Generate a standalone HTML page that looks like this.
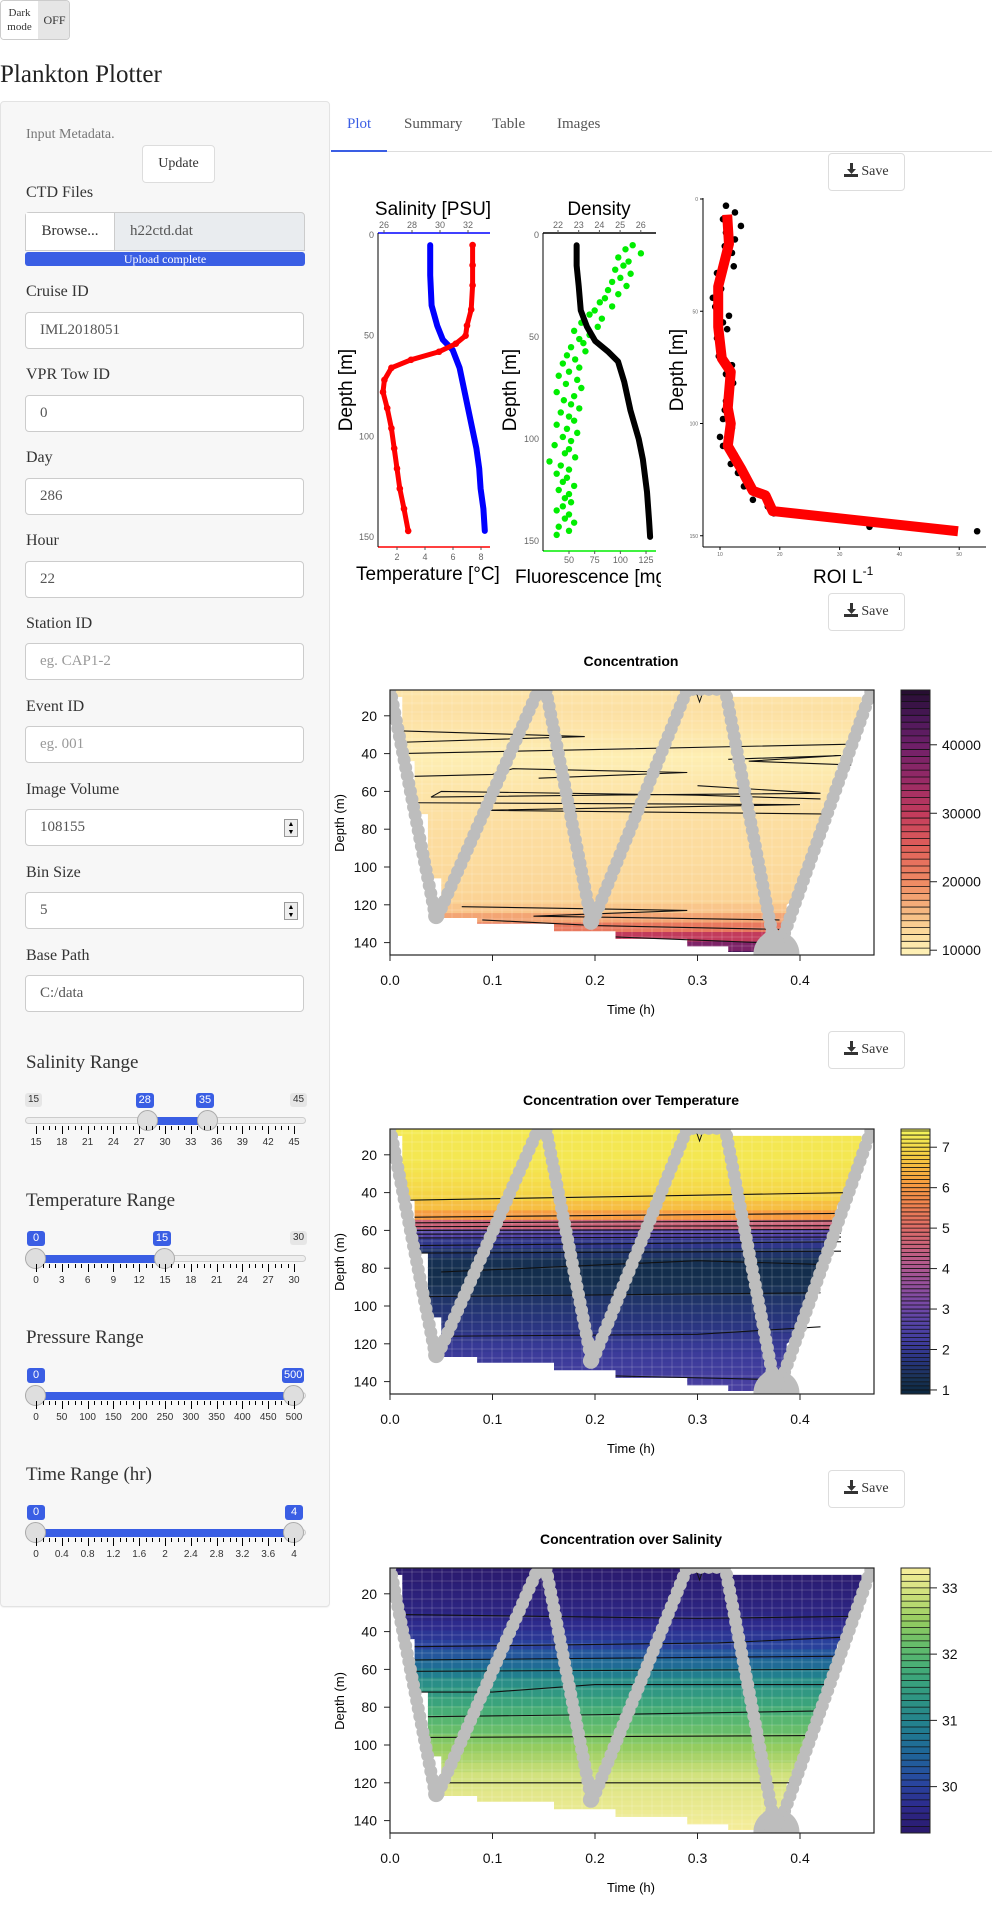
<!DOCTYPE html>
<html><head><meta charset="utf-8">
<style>
body{margin:0;width:992px;height:1909px;position:relative;background:#fff;font-family:"Liberation Serif",serif;color:#333;overflow:hidden}
.abs{position:absolute}
.lbl{position:absolute;left:26px;font-size:16px;color:#333}
.inp{position:absolute;left:25px;width:279px;height:37px;border:1px solid #ccc;border-radius:4px;background:#fff;box-sizing:border-box;font-size:15px;line-height:35px;padding-left:14px;color:#555}
.ph{color:#999}
.spin{position:absolute;right:5px;top:9px;width:14px;height:18px;border:1px solid #999;background:#eee;box-sizing:border-box;font-size:7px;line-height:8px;text-align:center;color:#000}
.btn{position:absolute;background:#fff;border:1px solid #ddd;border-radius:4px;box-sizing:border-box;font-size:14px;text-align:center;color:#333}
.h3{position:absolute;left:26px;font-size:19px;color:#333}
.tab{position:absolute;top:116px;font-size:15px;color:#555}
</style></head><body>

<div class="abs" style="left:0;top:0;width:70px;height:40px;border:1px solid #ccc;border-radius:4px;box-sizing:border-box;overflow:hidden;font-size:11px">
 <div class="abs" style="left:0;top:0;width:37px;height:38px;background:#fff;text-align:center;line-height:14px;padding-top:5px;box-sizing:border-box">Dark<br>mode</div>
 <div class="abs" style="left:37px;top:0;width:33px;height:38px;background:#e6e6e6;text-align:center;line-height:38px;font-size:12px">OFF</div>
</div>
<div class="abs" style="left:0;top:61px;font-size:25px;color:#222">Plankton Plotter</div>

<div class="abs" style="left:0;top:101px;width:330px;height:1506px;background:#f7f7f7;border:1px solid #e3e3e3;border-radius:4px;box-sizing:border-box;box-shadow:0 1px 1px rgba(0,0,0,.05)"></div>

<div class="abs" style="left:26px;top:127px;font-size:14px;color:#777">Input Metadata.</div>
<div class="btn" style="left:142px;top:145px;width:73px;height:38px;line-height:36px">Update</div>
<div class="lbl" style="top:184px">CTD Files</div>
<div class="abs" style="left:25px;top:212px;width:280px;height:39px;border:1px solid #ccc;border-radius:4px 4px 0 0;background:#e9ecef;box-sizing:border-box">
 <div class="abs" style="left:0;top:0;width:88px;height:37px;background:#fff;border-right:1px solid #ccc;font-size:15px;line-height:37px;text-align:center">Browse...</div>
 <div class="abs" style="left:104px;top:0;line-height:37px;font-size:15px;color:#555">h22ctd.dat</div>
</div>
<div class="abs" style="left:25px;top:252px;width:280px;height:14px;background:#3a5ee4;border-radius:3px;color:#fff;font-size:12px;line-height:14px;text-align:center">Upload complete</div>

<div class="lbl" style="top:283px">Cruise ID</div>
<div class="inp" style="top:312px">IML2018051</div>
<div class="lbl" style="top:366px">VPR Tow ID</div>
<div class="inp" style="top:395px">0</div>
<div class="lbl" style="top:449px">Day</div>
<div class="inp" style="top:478px">286</div>
<div class="lbl" style="top:532px">Hour</div>
<div class="inp" style="top:561px">22</div>
<div class="lbl" style="top:615px">Station ID</div>
<div class="inp ph" style="top:643px">eg. CAP1-2</div>
<div class="lbl" style="top:698px">Event ID</div>
<div class="inp ph" style="top:726px">eg. 001</div>
<div class="lbl" style="top:781px">Image Volume</div>
<div class="inp" style="top:809px">108155<div class="spin">▲<br>▼</div></div>
<div class="lbl" style="top:864px">Bin Size</div>
<div class="inp" style="top:892px">5<div class="spin">▲<br>▼</div></div>
<div class="lbl" style="top:947px">Base Path</div>
<div class="inp" style="top:975px">C:/data</div>

<div id="sliders"></div>

<div class="tab" style="left:347px;color:#3a5ee4">Plot</div>
<div class="tab" style="left:404px">Summary</div>
<div class="tab" style="left:492px">Table</div>
<div class="tab" style="left:557px">Images</div>
<div class="abs" style="left:331px;top:151px;width:661px;height:1px;background:#ddd"></div>
<div class="abs" style="left:331px;top:150px;width:56px;height:2px;background:#3a5ee4"></div>

<div id="saves"></div>

<svg id="charts" class="abs" style="left:0;top:0" width="992" height="1909" xmlns="http://www.w3.org/2000/svg" font-family="Liberation Sans, sans-serif"></svg>

<script>
// ---------- CTD data ----------
const tempDepth=[5,15,25,37,45,50,54,58,62,66,72,78,86,96,106,116,126,136,147];
const tempVal=[7.4,7.4,7.4,7.3,7.0,6.9,6.2,5.0,3.0,1.6,1.1,1.0,1.3,1.6,1.8,2.0,2.2,2.5,2.8];
const salDepth=[5,20,35,45,52,57,66,76,86,96,106,116,126,136,147];
const salVal=[29.3,29.3,29.4,29.8,30.2,30.9,31.4,31.7,32.0,32.3,32.6,32.8,32.9,33.1,33.2];
const densDepth=[5,15,25,37,45,52,57,62,72,86,100,110,126,140,148];
const densVal=[22.9,22.9,23.0,23.1,23.4,23.8,24.4,24.9,25.2,25.5,25.9,26.1,26.3,26.4,26.45];
const fluDepth=[5,7,9,11,13,15,17,19,21,23,25,27,29,31,33,35,37,39,41,43,45,47,49,51,53,55,57,59,61,63,65,67,69,71,73,75,77,79,81,83,85,87,89,91,93,95,97,99,101,103,105,107,109,111,113,115,117,119,121,123,125,127,129,131,133,135,137,139,141,143,145,147];
const fluVal=[112,105,120,98,108,103,95,110,100,92,106,88,98,85,80,92,75,70,82,62,78,55,70,60,64,52,66,48,56,44,60,50,40,58,47,62,38,55,45,52,60,42,50,55,38,48,58,44,52,36,50,46,56,31,42,50,38,48,44,55,40,50,46,52,44,38,50,46,55,40,50,38];
const roiDepth=[7,20,39,57,71,77,93,100,110,120,130,132,139,148];
const roiVal=[11.2,11.5,9.7,9.7,10.3,11.8,11.3,11.8,11.3,13.5,15.5,17.6,18.8,49.8];
const roiPtDepth=[3,6,9,12,15,18,21,24,27,30,33,36,40,44,48,52,55,58,62,66,70,74,78,82,86,90,94,98,102,106,110,114,118,122,125,128,131,134,137,140,146,148];
const roiPtVal=[11,12.5,10.5,13.5,11,12.5,10.8,12,11,12.3,9.5,9.8,10.2,8.8,9.2,11.5,10.5,11.2,9.5,10,9.8,12,11,12.2,11.5,11,10.8,10.5,12,10,10.5,12.5,11.8,13,14.5,14,16,15.5,18,19,35,53];
const fluTicks=[50,75,100,125], densTicks=[22,23,24,25,26];
const tTicks=[2,4,6,8], sTicks=[26,28,30,32], dTicks=[0,50,100,150], roiTicks=[10,20,30,40,50];

// ---------- Section plot data ----------
const timeTicks=[0.0,0.1,0.2,0.3,0.4];
const depthTicks=[20,40,60,80,100,120,140];
const towTime=[0.0,0.045,0.145,0.152,0.197,0.29,0.327,0.377,0.47];
const towDepth=[6,128,6,6,130,6,6,147,6];
const regionTime=[0.004,0.332,0.332,0.46,0.46,0.45,0.447,0.436,0.436,0.425,0.425,0.413,0.413,0.40,0.40,0.387,0.387,0.372,0.37,0.33,0.33,0.29,0.29,0.22,0.22,0.16,0.16,0.085,0.085,0.05,0.05,0.037,0.037,0.024,0.024,0.012,0.012,0.004];
const regionDepth=[6.3,6.3,10,10,22,30,40,47,62,65,78,85,100,105,115,120,135,140,145,145,142,142,138,138,134,134,130,130,127,127,106,106,72,72,44,44,10,10];
const binDepth=[7,12,17,22,27,32,37,42,47,52,57,62,67,72,77,82,87,92,97,102,107,112,117,122,127,132,137,142,147];
const concVals=[11200,11500,11800,11500,11200,10800,10300,10000,10200,10600,11000,11300,11500,11800,12000,12100,12200,12300,12400,12600,12800,13000,13300,14500,17500,22000,30000,38000,44000];
const tempFieldVals=[7.25,7.2,7.2,7.2,7.15,7.1,7.0,6.9,6.6,6.1,4.6,2.6,1.9,1.5,1.2,1.1,1.15,1.3,1.5,1.6,1.7,1.8,1.95,2.05,2.15,2.2,2.3,2.35,2.4];
const salFieldVals=[29.35,29.4,29.45,29.5,29.55,29.6,29.7,29.85,30.0,30.3,30.6,30.9,31.2,31.4,31.6,31.8,32.0,32.15,32.35,32.5,32.65,32.8,32.95,33.05,33.1,33.15,33.2,33.25,33.3];
const concContours=[[[0.012,28],[0.19,31],[0.012,34],[0.01,40],[0.45,35]],[[0.33,43],[0.44,41],[0.35,44],[0.45,46]],[[0.024,52],[0.1,51],[0.12,48],[0.29,50],[0.145,53]],[[0.3,57],[0.42,61],[0.2,62],[0.04,63],[0.05,60],[0.3,62],[0.42,64]],[[0.024,66],[0.4,67],[0.09,70],[0.43,72]],[[0.07,121],[0.29,123],[0.14,126],[0.38,128]],[[0.09,128],[0.2,131],[0.38,133]],[[0.22,137],[0.36,140]]];
const tempContours=[[[0.017,44],[0.45,40]],[[0.024,53],[0.44,51]],[[0.024,56],[0.44,55]],[[0.024,58],[0.44,57.5]],[[0.024,60],[0.44,59.5]],[[0.024,62],[0.44,61.5]],[[0.024,64],[0.44,63.5]],[[0.024,68],[0.44,66]],[[0.024,72],[0.44,71]],[[0.05,82],[0.3,76],[0.42,78]],[[0.037,95],[0.42,93]],[[0.05,116],[0.3,115],[0.42,111]],[[0.22,137],[0.38,139]]];
const salContours=[[[0.012,31],[0.3,33],[0.45,32]],[[0.024,48],[0.32,46],[0.44,43]],[[0.024,55],[0.44,53]],[[0.024,61],[0.44,60]],[[0.024,72],[0.1,72],[0.2,68],[0.43,68]],[[0.037,85],[0.2,84],[0.42,82]],[[0.037,96],[0.41,95]],[[0.05,120],[0.39,120],[0.395,124]]];
const concStops=[[9300,'#fef3b8'],[11000,'#fde6aa'],[13000,'#fbd698'],[16000,'#f6b57e'],[20000,'#ef8a63'],[25000,'#e0605a'],[30000,'#c23b5c'],[35000,'#962a66'],[40000,'#6d1f68'],[44000,'#4a1858'],[48000,'#250d30']];
const tempStops=[[0.9,'#0c2740'],[1.3,'#1a3358'],[1.7,'#26347a'],[2.1,'#3a3a99'],[2.6,'#5343a6'],[3.1,'#7548a6'],[3.7,'#9a5199'],[4.3,'#bd5d86'],[5.0,'#dd6b68'],[5.6,'#f0834e'],[6.2,'#f8a23e'],[6.8,'#f5cd42'],[7.4,'#f4f45a']];
const salStops=[[29.3,'#2a186a'],[29.7,'#2d2a8c'],[30.1,'#2849a0'],[30.5,'#1f6598'],[30.9,'#217e8f'],[31.3,'#2d9384'],[31.7,'#3ea87a'],[32.1,'#61bb6c'],[32.5,'#94cc60'],[32.9,'#cde07a'],[33.3,'#f8ee9c']];

const NS='http://www.w3.org/2000/svg';
const svg=document.getElementById('charts');
function mk(tag,attrs,parent){const e=document.createElementNS(NS,tag);for(const k in attrs)e.setAttribute(k,attrs[k]);(parent||svg).appendChild(e);return e;}
function txt(s,attrs,parent){const e=mk('text',attrs,parent);e.textContent=s;return e;}
function hex(c){return [parseInt(c.substr(1,2),16),parseInt(c.substr(3,2),16),parseInt(c.substr(5,2),16)];}
function colorAt(stops,v){if(v<=stops[0][0])return stops[0][1];for(let i=1;i<stops.length;i++){if(v<=stops[i][0]){const a=hex(stops[i-1][1]),b=hex(stops[i][1]);const f=(v-stops[i-1][0])/(stops[i][0]-stops[i-1][0]);return 'rgb('+a.map((x,j)=>Math.round(x+(b[j]-x)*f)).join(',')+')';}}return stops[stops.length-1][1];}

// ---------- CTD panel 1 ----------
(function(){
 const g=mk('g',{});
 
 
 const y=d=>235+d*2.013, xT=t=>397+(t-2)*14, xS=s=>384+(s-26)*14;
 txt('Salinity [PSU]',{x:433,y:215,'font-size':19,'text-anchor':'middle'},g);
 mk('line',{x1:378,y1:233,x2:490,y2:233,stroke:'#0000ff','stroke-width':1.5},g);
 mk('line',{x1:378,y1:547,x2:490,y2:547,stroke:'#ff0000','stroke-width':1.5},g);
 mk('line',{x1:378,y1:233,x2:378,y2:547,stroke:'#000'},g);
 sTicks.forEach(s=>{mk('line',{x1:xS(s),y1:230,x2:xS(s),y2:233,stroke:'#555'},g);txt(s,{x:xS(s),y:228,'font-size':9,fill:'#666','text-anchor':'middle'},g);});
 tTicks.forEach(t=>{mk('line',{x1:xT(t),y1:547,x2:xT(t),y2:550,stroke:'#555'},g);txt(t,{x:xT(t),y:560,'font-size':9,fill:'#666','text-anchor':'middle'},g);});
 dTicks.forEach(d=>{txt(d,{x:374,y:y(d)+3,'font-size':9,fill:'#666','text-anchor':'end'},g);});
 txt('Depth [m]',{transform:'translate(352,390) rotate(-90)','font-size':19,'text-anchor':'middle'},g);
 txt('Temperature [°C]',{x:356,y:580,'font-size':19},g);
 mk('polyline',{points:salDepth.map((d,i)=>xS(salVal[i])+','+y(d)).join(' '),fill:'none',stroke:'#0000ff','stroke-width':6,'stroke-linecap':'round','stroke-linejoin':'round'},g);
 mk('polyline',{points:tempDepth.map((d,i)=>xT(tempVal[i])+','+y(d)).join(' '),fill:'none',stroke:'#ff0000','stroke-width':5,'stroke-linecap':'round','stroke-linejoin':'round'},g);
 tempDepth.forEach((d,i)=>mk('circle',{cx:xT(tempVal[i]),cy:y(d),r:3.3,fill:'#ff0000'},g));
})();

// ---------- CTD panel 2 ----------
(function(){
 const g=mk('g',{});
 
 
 const y=d=>235+d*2.04, xD=v=>558+(v-22)*20.7, xF=f=>569+(f-50)*1.027;
 txt('Density',{x:599,y:215,'font-size':19,'text-anchor':'middle'},g);
 mk('line',{x1:543,y1:233,x2:656,y2:233,stroke:'#000','stroke-width':1.5},g);
 mk('line',{x1:543,y1:551,x2:656,y2:551,stroke:'#00ee00','stroke-width':1.5},g);
 mk('line',{x1:543,y1:233,x2:543,y2:551,stroke:'#000'},g);
 densTicks.forEach(v=>{mk('line',{x1:xD(v),y1:230,x2:xD(v),y2:233,stroke:'#555'},g);txt(v,{x:xD(v),y:228,'font-size':9,fill:'#666','text-anchor':'middle'},g);});
 fluTicks.forEach(v=>{mk('line',{x1:xF(v),y1:551,x2:xF(v),y2:554,stroke:'#555'},g);txt(v,{x:xF(v),y:563,'font-size':9,fill:'#666','text-anchor':'middle'},g);});
 dTicks.forEach(d=>{txt(d,{x:539,y:y(d)+3,'font-size':9,fill:'#666','text-anchor':'end'},g);});
 txt('Depth [m]',{transform:'translate(516,390) rotate(-90)','font-size':19,'text-anchor':'middle'},g);
 const cp=mk('clipPath',{id:'flclip'},g);mk('rect',{x:500,y:560,width:161,height:30},cp);
 txt('Fluorescence [mg m-3]',{x:515,y:583,'font-size':19,'clip-path':'url(#flclip)'},g);
 fluDepth.forEach((d,i)=>mk('circle',{cx:xF(fluVal[i]),cy:y(d),r:3.2,fill:'#00ee00'},g));
 mk('polyline',{points:densDepth.map((d,i)=>xD(densVal[i])+','+y(d)).join(' '),fill:'none',stroke:'#000','stroke-width':6,'stroke-linecap':'round','stroke-linejoin':'round'},g);
})();

// ---------- CTD panel 3 ----------
(function(){
 const g=mk('g',{});
 
 
 const y=d=>199+d*2.245, x=v=>720+(v-10)*5.98;
 mk('line',{x1:703,y1:198,x2:703,y2:547,stroke:'#000'},g);
 mk('line',{x1:703,y1:547,x2:986,y2:547,stroke:'#000'},g);
 dTicks.forEach(d=>{mk('line',{x1:700,y1:y(d),x2:703,y2:y(d),stroke:'#000'},g);txt(d,{x:698,y:y(d)+2,'font-size':5,fill:'#666','text-anchor':'end'},g);});
 roiTicks.forEach(v=>{mk('line',{x1:x(v),y1:547,x2:x(v),y2:550,stroke:'#000'},g);txt(v,{x:x(v),y:556,'font-size':5,fill:'#666','text-anchor':'middle'},g);});
 txt('Depth [m]',{transform:'translate(683,370) rotate(-90)','font-size':19,'text-anchor':'middle'},g);
 const t=txt('ROI L',{x:813,y:583,'font-size':19},g);
 const ts=mk('tspan',{dy:-8,'font-size':12},t);ts.textContent='-1';
 roiPtDepth.forEach((d,i)=>mk('circle',{cx:x(roiPtVal[i]),cy:y(d),r:3.3,fill:'#000'},g));
 mk('polyline',{points:roiDepth.map((d,i)=>x(roiVal[i])+','+y(d)).join(' '),fill:'none',stroke:'#ff0000','stroke-width':10,'stroke-linejoin':'round'},g);
})();

// ---------- Section plots ----------
function section(off,title,vals,stops,cmin,cmax,cstep,cbTicks,contours,name){
 const g=mk('g',{});
 
 
 const X=t=>390+t*1025, Y=d=>678+off+d*1.89;
 const top=690+off,bot=955+off;
 const id='clip'+off;
 const cp=mk('clipPath',{id:id},g);
 mk('polygon',{points:regionTime.map((t,i)=>X(t)+','+Y(regionDepth[i])).join(' ')},cp);
 const cb=mk('clipPath',{id:'box'+off},g);mk('rect',{x:390,y:top,width:484,height:bot-top},cb);
 const fg=mk('g',{'clip-path':'url(#'+id+')'},g);
 binDepth.forEach((d,i)=>{const r=mk('rect',{x:390,y:Y(d-2.6),width:484,height:5.2*1.89+0.5,fill:colorAt(stops,vals[i])},fg);
  });
 for(let xx=392;xx<874;xx+=10)mk('line',{x1:xx,y1:top,x2:xx,y2:bot,stroke:'#fff','stroke-opacity':0.18},fg);
 for(let yy=top+4;yy<bot;yy+=9)mk('line',{x1:390,y1:yy,x2:874,y2:yy,stroke:'#fff','stroke-opacity':0.18},fg);
 contours.forEach(c=>mk('polyline',{points:c.map(p=>X(p[0])+','+Y(p[1])).join(' '),fill:'none',stroke:'#111','stroke-width':1.1},g));
 mk('path',{d:'M'+X(0.298)+','+top+' L'+X(0.302)+','+(top+12)+' L'+X(0.306)+','+top,fill:'none',stroke:'#111'},g);
 const tg=mk('g',{'clip-path':'url(#box'+off+')'},g);
 const tow=mk('polyline',{points:towTime.map((t,i)=>X(t)+','+Y(towDepth[i])).join(' '),fill:'none',stroke:'#bdbdbd','stroke-width':13,'stroke-linecap':'round','stroke-dasharray':'0 8'},tg);
 
 
 mk('circle',{cx:X(0.045),cy:Y(126),r:8,fill:'#bdbdbd'},tg);
 mk('circle',{cx:X(0.196),cy:Y(129),r:8,fill:'#bdbdbd'},tg);
 mk('circle',{cx:X(0.377),cy:Y(146),r:23,fill:'#bdbdbd'},tg);
 mk('circle',{cx:X(0.373),cy:Y(140),r:12,fill:'#bdbdbd'},tg);
 mk('rect',{x:390,y:top,width:484,height:bot-top,fill:'none',stroke:'#222','stroke-width':1.2},g);
 depthTicks.forEach(d=>{mk('line',{x1:384,y1:Y(d),x2:390,y2:Y(d),stroke:'#222'},g);txt(d,{x:377,y:Y(d)+5,'font-size':14,'text-anchor':'end',fill:'#111'},g);});
 timeTicks.forEach(t=>{mk('line',{x1:X(t),y1:bot,x2:X(t),y2:bot+6,stroke:'#222'},g);txt(t.toFixed(1),{x:X(t),y:bot+30,'font-size':14,'text-anchor':'middle',fill:'#111'},g);});
 txt(title,{x:631,y:off+666,'font-size':14,'font-weight':'bold','text-anchor':'middle'},g);
 txt('Time (h)',{x:631,y:off+1014,'font-size':13,'text-anchor':'middle'},g);
 txt('Depth (m)',{transform:'translate('+344+','+(823+off)+') rotate(-90)','font-size':13,'text-anchor':'middle'},g);
 const cy=v=>bot-(v-cmin)/(cmax-cmin)*(bot-top);
 for(let v=cmin;v<cmax-1e-9;v+=cstep){mk('rect',{x:901,y:cy(Math.min(v+cstep,cmax)),width:29,height:cy(v)-cy(Math.min(v+cstep,cmax))+0.3,fill:colorAt(stops,v+cstep/2)},g);
  mk('line',{x1:901,y1:cy(v),x2:930,y2:cy(v),stroke:'#111','stroke-width':0.8},g);}
 mk('rect',{x:901,y:top,width:29,height:bot-top,fill:'none',stroke:'#222'},g);
 cbTicks.forEach(v=>{mk('line',{x1:930,y1:cy(v),x2:937,y2:cy(v),stroke:'#222'},g);txt(v,{x:942,y:cy(v)+5,'font-size':14,fill:'#111'},g);});
}
section(0,'Concentration',concVals,concStops,9300,48000,1000,[10000,20000,30000,40000],concContours,'concentration-section-plot');
section(439,'Concentration over Temperature',tempFieldVals,tempStops,0.9,7.45,0.1,[1,2,3,4,5,6,7],tempContours,'temperature-section-plot');
section(878,'Concentration over Salinity',salFieldVals,salStops,29.3,33.3,0.1,[30,31,32,33],salContours,'salinity-section-plot');

// ---------- Save buttons ----------
const saveTops=[153,593,1031,1470];
const sv=document.getElementById('saves');
saveTops.forEach((t,i)=>{const b=document.createElement('div');b.className='btn';
 
 
 b.style.cssText='left:828px;top:'+t+'px;width:77px;height:38px;line-height:36px';
 b.innerHTML='<svg width="14" height="14" style="vertical-align:-2px;margin-right:3px"><path d="M6 0h3v6h3l-4.5 5L3 6h3z M0 11h14v3H0z" fill="#333"/></svg>Save';sv.appendChild(b);});

// ---------- Sliders ----------
const sliderHeads=['Salinity Range','Temperature Range','Pressure Range','Time Range (hr)'];
const sliderTops=[1064,1202,1339,1476];
const sliderMin=[15,0,0,0], sliderMax=[45,30,500,4];
const sliderLo=[28,0,0,0], sliderHi=[35,15,500,4];
const sliderTickLabels=[[15,18,21,24,27,30,33,36,39,42,45],[0,3,6,9,12,15,18,21,24,27,30],[0,50,100,150,200,250,300,350,400,450,500],[0,0.4,0.8,1.2,1.6,2,2.4,2.8,3.2,3.6,4]];
const sl=document.getElementById('sliders');
sliderHeads.forEach((h,i)=>{
 const top=sliderTops[i];const px=v=>36+(v-sliderMin[i])/(sliderMax[i]-sliderMin[i])*258;
 const w=document.createElement('div');
 
 
 let s='<div class="h3" style="top:'+(top-12)+'px">'+h+'</div>';
 const lo=px(sliderLo[i]),hi=px(sliderHi[i]);
 if(sliderLo[i]!==sliderMin[i]) s+='<div class="abs" style="left:25px;top:'+(top+29)+'px;height:14px;padding:0 3px;background:#e6e6e6;border-radius:3px;font-size:10px;line-height:14px;color:#333;font-family:Liberation Sans,sans-serif">'+sliderMin[i]+'</div>';
 if(sliderHi[i]!==sliderMax[i]) s+='<div class="abs" style="left:290px;top:'+(top+29)+'px;height:14px;padding:0 3px;background:#e6e6e6;border-radius:3px;font-size:10px;line-height:14px;color:#333;font-family:Liberation Sans,sans-serif">'+sliderMax[i]+'</div>';
 s+='<div class="abs" style="left:25px;top:'+(top+53)+'px;width:281px;height:7px;background:#eee;border:1px solid #ccc;border-radius:4px;box-sizing:border-box"></div>';
 s+='<div class="abs" style="left:'+lo+'px;top:'+(top+53)+'px;width:'+(hi-lo)+'px;height:8px;background:#3a5ee4"></div>';
 [[lo,sliderLo[i]],[hi,sliderHi[i]]].forEach(p=>{
  s+='<div class="abs" style="left:'+(p[0]-9)+'px;top:'+(top+29)+'px;min-width:18px;height:15px;padding:0 2px;box-sizing:border-box;background:#3a5ee4;border-radius:3px;color:#fff;font-size:11px;line-height:15px;text-align:center;font-family:Liberation Sans,sans-serif;transform:translateX('+(String(p[1]).length>1?-3:0)+'px)">'+p[1]+'</div>';
  s+='<div class="abs" style="left:'+(p[0]-11)+'px;top:'+(top+46)+'px;width:21px;height:21px;border-radius:50%;background:#dedede;border:1px solid #aaa;box-sizing:border-box"></div>';});
 for(let k=0;k<=40;k++){const x=36+k*258/40;const major=k%4===0;s+='<div class="abs" style="left:'+x.toFixed(1)+'px;top:'+(top+62)+'px;width:1px;height:'+(major?8:4)+'px;background:#000"></div>';}
 sliderTickLabels[i].forEach((v,k)=>{s+='<div class="abs" style="left:'+(36+k*25.8-15)+'px;width:30px;text-align:center;top:'+(top+73)+'px;font-size:10px;color:#333;font-family:Liberation Sans,sans-serif">'+v+'</div>';});
 w.innerHTML=s;sl.appendChild(w);});
</script>
</body></html>
